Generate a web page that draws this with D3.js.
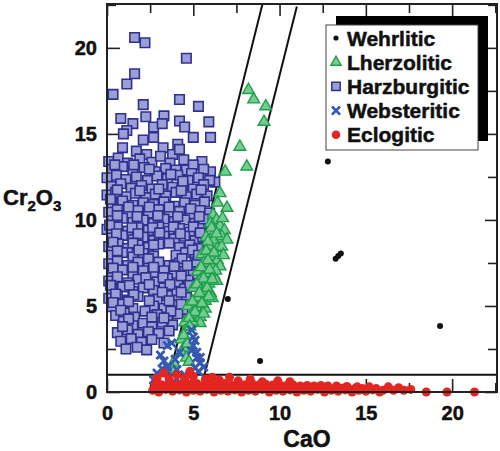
<!DOCTYPE html>
<html>
<head>
<meta charset="utf-8">
<script src="https://cdn.jsdelivr.net/npm/d3@7"></script>
<style>
  body { margin: 0; background: #fff; }
  text { font-family: "Liberation Sans", Arial, sans-serif; font-weight: bold; stroke: #111; stroke-width: 0.5px; }
</style>
</head>
<body>
<svg width="500" height="451"></svg>
<script>
// [CaO, Cr2O3] pairs
var harzburgitic = [
  [1.6,20.6],[2.2,20.3],[4.6,19.4],[1.6,18.5],[1.15,17.9],[0.35,17.3],[4.2,17.0],[2.1,16.7],[5.3,16.6],
  [0.8,15.9],[2.25,16.0],[3.3,16.05],[1.5,15.6],[4.2,15.75],[5.9,15.7],[2.7,15.4],[3.2,15.6],[4.5,15.4],
  [1.15,15.2],[0.95,15.0],[2.7,14.8],[5.0,14.8],[6.0,14.8],[2.1,14.65],[3.25,14.2],[4.1,14.4],[1.7,14.0],
  [2.3,13.8],[3.8,13.8],[0.9,14.2],[4.2,14.1],[5.5,13.4],[4.6,12.9],[5.2,12.8],[6.0,12.8],[6.25,12.2],
  [0.1,13.4],[0.65,13.6],[1.2,13.3],[1.9,13.55],[2.6,13.35],[3.1,13.7],[3.65,13.3],[4.45,13.5],[5.0,13.2],
  [0.3,12.95],[0.9,13.1],[1.5,12.85],[2.15,13.05],[2.8,12.8],[3.4,13.0],[4.0,12.9],[4.9,12.7],[5.6,12.95],
  [0.0,12.45],[0.55,12.6],[1.1,12.35],[1.7,12.5],[2.35,12.3],[2.9,12.55],[3.5,12.4],[4.1,12.6],[4.7,12.3],[5.3,12.45],[5.95,12.3],
  [0.25,11.95],[0.8,12.1],[1.4,11.85],[2.0,12.0],[2.6,11.8],[3.2,12.05],[3.8,11.9],[4.4,12.0],[5.0,11.8],[5.6,12.05],
  [0.0,11.45],[0.5,11.6],[1.1,11.35],[1.65,11.55],[2.25,11.3],[2.8,11.5],[3.4,11.4],[4.0,11.6],[4.6,11.35],[5.2,11.5],[5.8,11.4],
  [0.3,10.95],[0.9,11.1],[1.5,10.85],[2.1,11.0],[2.7,10.9],[3.3,11.05],[3.9,10.8],[4.5,11.0],[5.1,10.85],[5.65,11.05],
  [0.1,10.45],[0.6,10.6],[1.2,10.35],[1.8,10.55],[2.4,10.4],[3.0,10.6],[3.6,10.35],[4.2,10.5],[4.8,10.3],[5.4,10.55],[5.95,10.4],
  [0.3,9.95],[0.9,10.1],[1.5,9.85],[2.1,10.0],[2.7,9.8],[3.3,10.05],[3.9,9.9],[4.5,10.0],[5.1,9.8],[5.6,10.05],
  [0.0,9.45],[0.6,9.6],[1.2,9.35],[1.8,9.55],[2.4,9.4],[3.0,9.6],[3.6,9.35],[4.2,9.5],[4.8,9.3],[5.35,9.5],
  [0.3,8.95],[0.9,9.1],[1.5,8.85],[2.1,9.0],[2.7,8.8],[3.3,9.05],[3.9,8.9],[4.5,9.05],[5.1,8.8],[5.55,9.0],
  [0.1,8.45],[0.65,8.6],[1.2,8.35],[1.8,8.55],[2.4,8.4],[3.0,8.6],[4.2,8.4],[4.8,8.55],[5.3,8.35],
  [0.3,7.95],[0.9,8.1],[1.5,7.85],[2.1,8.05],[2.7,7.9],[4.0,7.95],[4.55,8.1],[5.1,7.85],
  [0.1,7.45],[0.6,7.6],[1.2,7.35],[1.8,7.55],[2.4,7.4],[3.0,7.55],[3.6,7.35],[4.2,7.5],[4.8,7.3],[5.2,7.55],
  [0.3,6.95],[0.9,7.1],[1.5,6.85],[2.1,7.05],[2.7,6.9],[3.3,7.05],[3.9,6.8],[4.5,7.0],[5.0,6.85],
  [0.1,6.45],[0.6,6.6],[1.2,6.35],[1.8,6.55],[2.9,6.4],[3.5,6.6],[4.1,6.35],[4.7,6.5],
  [0.3,5.95],[0.9,6.1],[1.5,5.85],[2.1,6.05],[2.7,5.9],[3.3,6.05],[3.9,5.85],[4.5,6.0],
  [0.1,5.45],[0.6,5.6],[1.2,5.35],[1.8,5.55],[2.9,5.4],[3.5,5.6],[4.1,5.35],[4.6,5.5],
  [0.3,4.95],[0.9,5.1],[1.5,4.85],[2.7,5.0],[3.3,4.85],[3.9,5.05],[4.4,4.8],
  [0.5,4.45],[1.0,4.6],[1.6,4.35],[2.9,4.5],[3.5,4.35],[4.1,4.55],
  [0.95,4.1],[1.5,3.85],[2.1,4.0],[2.6,3.8],[3.2,4.05],[3.8,3.9],
  [0.6,3.45],[1.2,3.6],[1.8,3.35],[2.4,3.5],[3.0,3.4],[3.6,3.55],
  [0.8,2.95],[1.4,3.1],[2.0,2.9],[2.6,3.05],[3.3,2.85],
  [1.1,2.5],[1.75,2.6],[2.3,2.45],
  [0.45,13.2],[1.55,13.2],[2.45,12.95],[3.7,12.65],[4.4,12.25],[0.6,11.75],[1.9,11.7],[3.0,11.8],[4.3,11.7],[5.45,11.75],
  [0.2,11.2],[1.25,10.75],[2.45,10.75],[3.6,10.75],[4.85,10.65],[0.6,10.25],[1.75,10.2],[2.95,10.25],[4.1,10.2],[5.35,10.2],
  [0.15,9.7],[1.45,9.55],[2.65,9.55],[3.85,9.6],[5.0,9.6],[0.55,9.2],[1.8,9.2],[3.05,9.25],[4.25,9.2],[5.4,9.25],
  [0.35,8.7],[1.5,8.65],[2.7,8.55],[3.6,8.65],[4.95,8.25],[0.6,8.2],[1.85,8.25],[2.4,7.75],[4.35,7.75],[5.3,7.95],
  [0.35,7.2],[1.5,7.25],[2.7,7.25],[3.9,7.3],[4.65,7.35],[0.6,6.7],[2.25,6.65],[3.25,6.65],[4.3,6.75],[0.2,6.2],
  [1.3,6.2],[2.45,6.25],[3.65,6.25],[4.8,6.2],[0.5,5.7],[1.55,5.65],[3.2,5.8],[4.3,5.8],[0.35,5.2],[1.25,5.25],
  [2.45,5.3],[3.6,5.3],[4.3,5.1],[0.8,4.75],[2.2,4.7],[3.7,4.7],[1.25,4.25],[3.3,4.3],[2.6,4.35],[0.9,3.8]
];

var lherzolitic = [
  [8.2,17.55],[8.5,17.0],[9.2,16.6],[9.1,15.7],[7.7,14.25],[8.1,13.1],[6.85,12.8],[6.55,11.55],[6.4,11.0],[6.95,10.7],
  [6.15,10.3],[6.35,10.0],[6.0,9.8],[6.55,9.65],[6.25,9.35],[6.8,9.4],
  [5.75,9.0],[6.2,8.85],[6.65,9.05],[6.95,8.85],[5.9,8.5],[6.4,8.35],[6.65,8.45],
  [5.5,8.0],[5.95,7.85],[6.4,7.65],[6.75,7.95],[5.6,7.5],[6.1,7.25],[6.55,7.3],
  [5.25,7.0],[5.7,6.9],[6.2,6.75],[5.4,6.5],[5.9,6.3],[6.35,6.45],
  [5.0,6.05],[5.5,5.9],[6.0,5.75],[5.2,5.5],[5.7,5.3],[6.1,5.45],
  [4.7,5.0],[5.2,4.9],[5.7,4.85],[4.9,4.5],[5.4,4.35],[5.4,4.0],
  [4.5,4.05],[4.95,4.1],[4.55,3.55],
  [4.3,3.05],[4.45,2.55],[4.3,2.3],[4.6,2.0],
  [3.85,1.7],[4.75,1.75],[3.8,1.3],
  [6.05,9.55],[6.7,10.1],[5.85,8.75],[6.35,9.2],[5.75,8.2],[6.2,8.1],[5.85,7.65],[6.3,7.05],[5.45,7.25],[5.95,7.1],
  [5.6,6.6],[6.1,6.55],[5.2,6.25],[5.8,6.05],[5.35,5.75],[5.9,5.55],[4.95,5.25],[5.5,5.15],[5.1,4.65],[5.6,4.55],
  [4.75,4.3],[4.8,3.8],[4.45,3.3],[4.65,2.8]
];

var websteritic = [
  [4.9,3.6],[5.1,3.0],[4.9,2.4],[3.75,2.85],[3.5,2.7],[5.2,2.3],[5.0,3.2],[5.0,2.7],[5.2,2.0],[5.4,1.7],
  [3.1,2.15],[2.9,1.1],[2.7,0.7],[3.5,1.2],[4.05,1.3],[4.9,0.4],[5.1,1.4],[5.6,1.45],[4.2,2.3],[5.0,0.3],
  [3.5,1.45],[5.4,2.0],[3.85,0.6],[3.3,1.8],[4.5,1.0],[5.3,1.2],[3.0,0.4],[4.3,0.5],[3.2,1.35],[3.95,1.9]
];

var eclogitic = [
  [2.65,0.1],[3.0,0.0],[3.4,0.15],[3.8,0.05],[4.2,0.12],[4.6,0.0],[5.0,0.1],[5.4,0.05],[5.8,0.15],[6.2,0.0],
  [6.6,0.1],[7.0,0.05],[7.4,0.12],[7.8,0.0],[8.2,0.1],[8.6,0.05],[9.0,0.15],[9.4,0.0],[9.8,0.1],[10.2,0.05],
  [10.6,0.12],[11.0,0.0],[11.4,0.1],[11.8,0.05],[12.2,0.15],[12.6,0.0],[13.0,0.1],[13.4,0.05],[13.8,0.12],
  [14.2,0.0],[14.6,0.1],[15.0,0.05],[15.4,0.12],[15.8,0.0],
  [2.85,0.25],[3.2,0.2],[3.6,0.28],[4.0,0.22],[4.4,0.25],[4.8,0.2],[5.2,0.28],[5.6,0.22],[6.0,0.25],[6.4,0.2],
  [6.8,0.28],[7.2,0.22],[7.6,0.25],[8.0,0.2],[8.4,0.28],[8.8,0.22],[9.2,0.25],[9.6,0.2],[10.0,0.25],[10.4,0.22],
  [10.8,0.2],[11.2,0.25],[11.6,0.2],[12.0,0.22],[12.4,0.2],[12.8,0.25],[13.2,0.2],[13.6,0.22],[14.0,0.2],[14.4,0.22],
  [14.8,0.2],[15.2,0.18],[15.6,0.2],
  [2.8,0.45],[3.2,0.4],[3.6,0.5],[4.0,0.42],[4.4,0.5],[4.8,0.45],[5.2,0.5],[5.6,0.4],[6.0,0.48],[6.4,0.42],
  [6.8,0.5],[7.2,0.4],[7.6,0.48],[8.0,0.42],[8.4,0.5],[8.8,0.4],[9.2,0.45],[9.6,0.4],[10.0,0.42],[10.4,0.38],
  [10.8,0.4],[11.2,0.35],[11.6,0.38],[12.0,0.35],[12.4,0.38],[12.8,0.35],[13.3,0.35],[13.9,0.32],[14.5,0.3],[15.2,0.3],
  [2.9,0.8],[3.6,0.75],[4.05,1.0],[4.5,0.8],[5.0,0.9],[5.7,0.75],[6.1,0.85],[6.5,0.7],[7.1,0.85],[7.6,0.65],
  [8.3,0.75],[9.0,0.6],[9.9,0.65],[10.6,0.6],[3.3,1.1],[4.8,1.2],
  [16.0,0.1],[16.3,0.3],[16.6,0.1],[16.9,0.25],[17.2,0.1],[17.6,0.15],[18.5,0.0],[19.7,0.0],[21.3,0.0]
];

var wehrlitic = [
  [7.0,5.4],[8.87,1.8],[12.8,13.4],[13.25,7.75],[13.4,7.9],[13.55,8.05],[19.3,3.84]
];

// classification boundaries [CaO, Cr2O3]
var leftBoundary = [[3.625,1],[9.0,22.5]];
var rightBoundary = [[5.65,1],[11.0,22.4]];
var crCutoff = [[0,1],[22.6,1]];

var legendNames = ["Wehrlitic", "Lherzolitic", "Harzburgitic", "Websteritic", "Eclogitic"];
var majorTicks = [0, 5, 10, 15, 20];
var minorTicks = [2.5, 7.5, 12.5, 17.5, 22.5];

var margin = { top: 4, right: 3, bottom: 59, left: 107 };
var chartWidth = 500 - margin.left - margin.right;
var chartHeight = 451 - margin.top - margin.bottom;

var svg = d3.select("svg");
var g = svg.append("g")
  .attr("transform", "translate(" + margin.left + "," + margin.top + ")");

var xScale = d3.scaleLinear().domain([0, 22.6]).range([0, chartWidth]);
var yScale = d3.scaleLinear().domain([0, 22.55]).range([chartHeight, 0]);

function addAxis(axis, transform, labels) {
  var a = g.append("g")
    .attr("transform", transform)
    .call(axis);
  a.select(".domain").remove();
  a.selectAll(".tick line").attr("stroke", "#222").attr("stroke-width", 1.6);
  if (!labels) a.selectAll("text").remove();
  a.selectAll("text").attr("font-size", 20).attr("fill", "#111");
  return a;
}

addAxis(d3.axisBottom(xScale).tickValues(majorTicks).tickSize(-13).tickPadding(14), "translate(0," + chartHeight + ")", true);
addAxis(d3.axisBottom(xScale).tickValues(minorTicks).tickSize(-9), "translate(0," + chartHeight + ")", false);
addAxis(d3.axisTop(xScale).tickValues(majorTicks).tickSize(-12), "", false);
addAxis(d3.axisTop(xScale).tickValues(minorTicks).tickSize(-9), "", false);
addAxis(d3.axisLeft(yScale).tickValues(majorTicks).tickSize(-13).tickPadding(10), "", true);
addAxis(d3.axisLeft(yScale).tickValues(minorTicks).tickSize(-9), "", false);
addAxis(d3.axisRight(yScale).tickValues(majorTicks).tickSize(-12), "translate(" + chartWidth + ",0)", false);
addAxis(d3.axisRight(yScale).tickValues(minorTicks).tickSize(-9), "translate(" + chartWidth + ",0)", false);

var line = d3.line()
  .x(function (d) { return xScale(d[0]); })
  .y(function (d) { return yScale(d[1]); });

[leftBoundary, rightBoundary, crCutoff].forEach(function (b) {
  g.append("path")
    .attr("d", line(b))
    .attr("fill", "none")
    .attr("stroke", "#111")
    .attr("stroke-width", 2);
});

var squareSym = d3.symbol().type(d3.symbolSquare).size(90);
var triSym = d3.symbol().type(d3.symbolTriangle).size(60);
var xSym = d3.symbol().type(d3.symbolX).size(45);

g.append("g").selectAll("path")
  .data(harzburgitic)
  .enter()
  .append("path")
  .attr("d", squareSym)
  .attr("transform", function (d) { return "translate(" + xScale(d[0]) + "," + yScale(d[1]) + ")"; })
  .attr("fill", "#9c9fd6")
  .attr("stroke", "#2f3190")
  .attr("stroke-width", 1.6);

g.append("g").selectAll("path")
  .data(lherzolitic)
  .enter()
  .append("path")
  .attr("d", triSym)
  .attr("transform", function (d) { return "translate(" + xScale(d[0]) + "," + yScale(d[1]) + ")"; })
  .attr("fill", "#74cc90")
  .attr("stroke", "#1f9e4c")
  .attr("stroke-width", 1.4);

g.append("g").selectAll("path")
  .data(websteritic)
  .enter()
  .append("path")
  .attr("d", xSym)
  .attr("transform", function (d) { return "translate(" + xScale(d[0]) + "," + yScale(d[1]) + ")"; })
  .attr("fill", "none")
  .attr("stroke", "#3558b0")
  .attr("stroke-width", 2.8);

g.append("g").selectAll("circle")
  .data(eclogitic)
  .enter()
  .append("circle")
  .attr("cx", function (d) { return xScale(d[0]); })
  .attr("cy", function (d) { return yScale(d[1]); })
  .attr("r", 4.5)
  .attr("fill", "#e42521");

g.append("g").selectAll("circle")
  .data(wehrlitic)
  .enter()
  .append("circle")
  .attr("cx", function (d) { return xScale(d[0]); })
  .attr("cy", function (d) { return yScale(d[1]); })
  .attr("r", 3)
  .attr("fill", "#111");

// plot frame
g.append("rect")
  .attr("width", chartWidth)
  .attr("height", chartHeight)
  .attr("fill", "none")
  .attr("stroke", "#222")
  .attr("stroke-width", 2);

// legend with offset black shadow
var legend = svg.append("g").attr("transform", "translate(326,25)");
legend.append("rect")
  .attr("x", 10).attr("y", -9)
  .attr("width", 152).attr("height", 125)
  .attr("fill", "#000");
legend.append("rect")
  .attr("width", 152).attr("height", 125)
  .attr("fill", "#fff")
  .attr("stroke", "#444")
  .attr("stroke-width", 1);

var rows = legend.selectAll(".row")
  .data(legendNames)
  .enter()
  .append("g")
  .attr("class", "row")
  .attr("transform", function (d, i) { return "translate(10," + (13 + i * 24.2) + ")"; });

rows.append("text")
  .attr("x", 11)
  .attr("dy", "0.36em")
  .attr("font-size", 21)
  .attr("fill", "#111")
  .text(function (d) { return d; });

rows.each(function (d, i) {
  var r = d3.select(this);
  if (i == 0) {
    r.append("circle").attr("r", 2.6).attr("fill", "#111");
  } else if (i == 1) {
    r.append("path").attr("d", d3.symbol().type(d3.symbolTriangle).size(48)).attr("fill", "#74cc90").attr("stroke", "#1f9e4c").attr("stroke-width", 1.3);
  } else if (i == 2) {
    r.append("path").attr("d", d3.symbol().type(d3.symbolSquare).size(70)).attr("fill", "#9c9fd6").attr("stroke", "#2f3190").attr("stroke-width", 1.5);
  } else if (i == 3) {
    r.append("path").attr("d", xSym).attr("fill", "none").attr("stroke", "#3558b0").attr("stroke-width", 2.6);
  } else {
    r.append("circle").attr("r", 4.3).attr("fill", "#e42521");
  }
});

// axis titles
svg.append("text")
  .attr("x", 307)
  .attr("y", 447)
  .attr("text-anchor", "middle")
  .attr("font-size", 23)
  .attr("fill", "#111")
  .text("CaO");

var yTitle = svg.append("text")
  .attr("x", 3)
  .attr("y", 205)
  .attr("font-size", 22)
  .attr("fill", "#111");
yTitle.append("tspan").text("Cr");
yTitle.append("tspan").attr("font-size", 15).attr("dy", 6).text("2");
yTitle.append("tspan").attr("dy", -6).text("O");
yTitle.append("tspan").attr("font-size", 15).attr("dy", 6).text("3");
</script>
</body>
</html>
